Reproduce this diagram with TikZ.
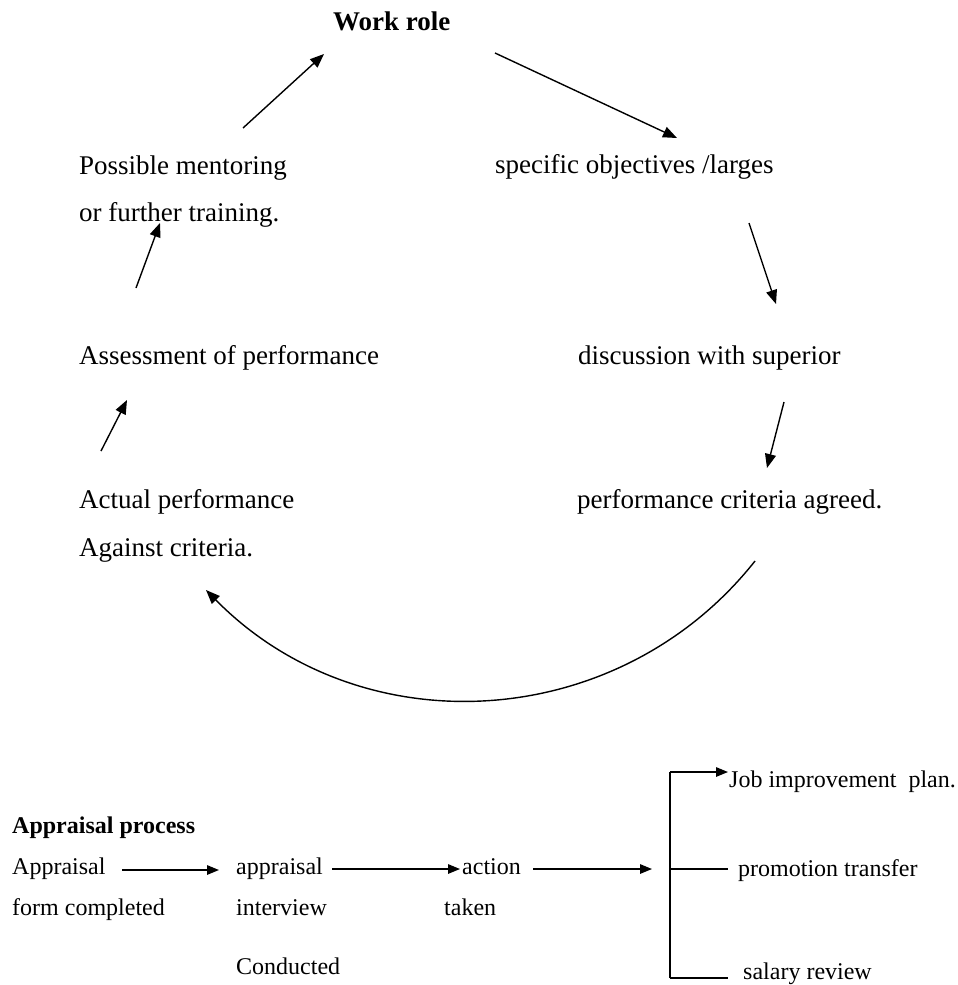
\documentclass[tikz,border=0pt]{standalone}
\usepackage{fontspec}
\setmainfont{Liberation Serif}
\usetikzlibrary{arrows.meta}
\begin{document}
\begin{tikzpicture}[x=1pt,y=-1pt,
  lbl/.style={anchor=base west, inner sep=0pt, font=\fontsize{27}{32}\selectfont},
  sml/.style={anchor=base west, inner sep=0pt, font=\fontsize{24}{29}\selectfont},
  conn/.style={line width=1.4pt, -{Triangle[length=14pt,width=11pt]}},
  sconn/.style={line width=1.4pt, -{Triangle[length=12pt,width=9.5pt]}},
  plainline/.style={line width=1.4pt}]
\useasboundingbox (0,0) rectangle (958,985);

% ---- cycle texts
\node[lbl, font=\fontsize{27}{32}\selectfont\bfseries] (work) at (333,30) {Work role};
\node[lbl] (poss1) at (79,174) {Possible mentoring};
\node[lbl] (poss2) at (79,221) {or further training.};
\node[lbl] (spec) at (495,173) {specific objectives /larges};
\node[lbl] (assess) at (79,364) {Assessment of performance};
\node[lbl] (disc) at (578,364) {discussion with superior};
\node[lbl] (act1) at (79,508) {Actual performance};
\node[lbl] (act2) at (79,556) {Against criteria.};
\node[lbl] (crit) at (577,508) {performance criteria agreed.};

% ---- cycle connector ends
\coordinate (a1s) at (243,128); \coordinate (a1e) at (324,54);
\coordinate (a2s) at (495,53);  \coordinate (a2e) at (677,138);
\coordinate (a3s) at (749,223); \coordinate (a3e) at (776,304);
\coordinate (a4s) at (784,402); \coordinate (a4e) at (767,468);
\coordinate (a5s) at (755,561); \coordinate (a5e) at (206,590);
\coordinate (a6s) at (101,451); \coordinate (a6e) at (127,400);
\coordinate (a7s) at (136,288); \coordinate (a7e) at (160,223);

\draw[conn] (a1s) -- (a1e);
\draw[conn] (a2s) -- (a2e);
\draw[conn] (a3s) -- (a3e);
\draw[conn] (a4s) -- (a4e);
\draw[conn] (a5s) .. controls (618.6,733.5) and (361.4,747.9) .. (a5e);
\draw[conn] (a6s) -- (a6e);
\draw[conn] (a7s) -- (a7e);

% ---- appraisal process
\node[sml, font=\fontsize{24}{29}\selectfont\bfseries] (title) at (12,833) {Appraisal process};
\node[sml] (form1) at (12,874) {Appraisal};
\node[sml] (form2) at (12,915) {form completed};
\node[sml] (int1) at (236,874) {appraisal};
\node[sml] (int2) at (236,915) {interview};
\node[sml] (int3) at (236,974) {Conducted};
\node[sml] (act) at (462,874) {action};
\node[sml] (taken) at (444,915) {taken};
\node[sml] (job) at (729,787) {Job improvement\hspace{0.25em} plan.};
\node[sml] (promo) at (738,876) {promotion transfer};
\node[sml] (salary) at (743,979) {salary review};

\coordinate (b1s) at (122,870); \coordinate (b1e) at (219,870);
\coordinate (b2s) at (332,869); \coordinate (b2e) at (460,869);
\coordinate (b3s) at (533,869); \coordinate (b3e) at (652,869);
\coordinate (top) at (670,772); \coordinate (mid) at (670,869); \coordinate (bot) at (670,978);
\coordinate (jobe) at (728,772); \coordinate (promoe) at (728,869); \coordinate (salarye) at (728,978);

\draw[sconn] (b1s) -- (b1e);
\draw[sconn] (b2s) -- (b2e);
\draw[sconn] (b3s) -- (b3e);
\draw[plainline] (bot) -- (top);
\draw[sconn] (top) -- (jobe);
\draw[plainline] (mid) -- (promoe);
\draw[plainline] (bot) -- (salarye);
\end{tikzpicture}
\end{document}
